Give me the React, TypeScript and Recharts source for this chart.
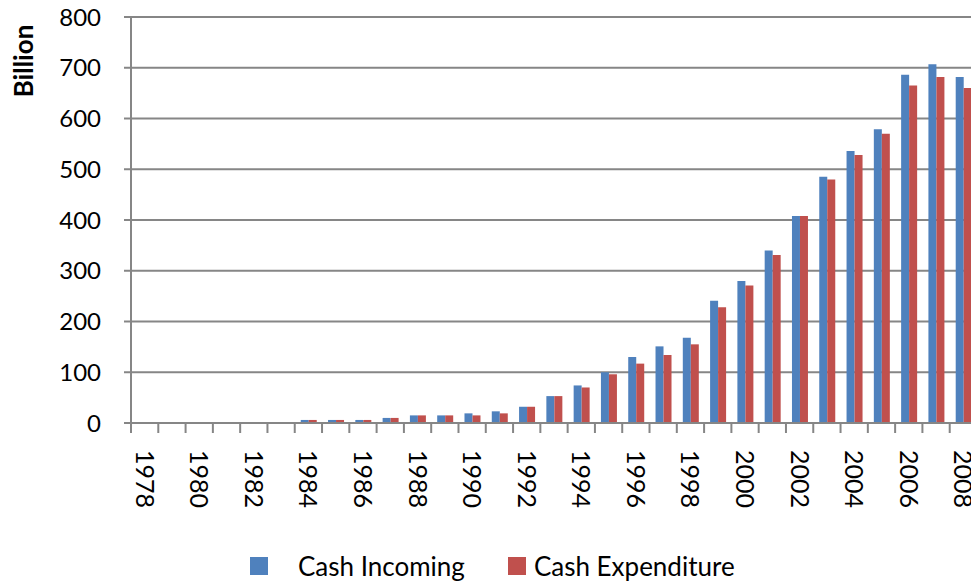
import React from 'react';
import { BarChart, Bar, XAxis, YAxis, CartesianGrid, Legend, Label } from 'recharts';

const years = [
  '1978', '1979', '1980', '1981', '1982', '1983', '1984', '1985', '1986', '1987',
  '1988', '1989', '1990', '1991', '1992', '1993', '1994', '1995', '1996', '1997',
  '1998', '1999', '2000', '2001', '2002', '2003', '2004', '2005', '2006', '2007', '2008',
];
const cashIncoming = [
  1, 1, 1, 1, 1, 1, 6, 6, 6, 10,
  15, 15, 19, 23, 32, 53, 74, 100, 130, 151,
  168, 241, 280, 340, 408, 485, 536, 579, 686, 707, 682,
];
const cashExpenditure = [
  1, 1, 1, 1, 1, 1, 6, 6, 6, 10,
  15, 15, 15, 19, 32, 53, 70, 96, 117, 134,
  155, 228, 271, 331, 408, 480, 528, 570, 665, 682, 660,
];
const yTicks = [0, 100, 200, 300, 400, 500, 600, 700, 800];
const seriesOrder = ['incoming', 'expenditure'];

const data = years.map((year, i) => ({
  year,
  incoming: cashIncoming[i],
  expenditure: cashExpenditure[i],
}));

const CHART_W = 985;
const CHART_H = 583;
const Y_AXIS_W = 131;
const X_AXIS_H = 160;
const MARGIN = { top: 17, right: 8, bottom: 0, left: 0 };
const BAND = (CHART_W - Y_AXIS_W - MARGIN.left - MARGIN.right) / years.length;
const GRAY = '#868686';
const FONT = 'Lato, "Open Sans", sans-serif';
const BLUE = '#4F81BD';
const RED = '#C0504D';

const XTick = (props: any) => {
  const { x, y, index, payload } = props;
  const bx = x - BAND / 2;
  const ty = y + 27;
  return (
    <g>
      <line x1={bx} y1={y} x2={bx} y2={y + 10} stroke={GRAY} strokeWidth={2} />
      {index % 2 === 0 && (
        <text
          x={x}
          y={ty}
          dy="0.36em"
          transform={`rotate(90, ${x}, ${ty})`}
          fontFamily={FONT}
          fontSize={25}
          fill="#000"
          textAnchor="start"
        >
          {payload.value}
        </text>
      )}
    </g>
  );
};

const BillionLabel = () => (
  <text
    x={24}
    y={61}
    dy="0.36em"
    transform="rotate(-90, 24, 61)"
    textAnchor="middle"
    fontFamily={FONT}
    fontWeight="bold"
    fontSize={26}
    fill="#000"
  >
    Billion
  </text>
);

const LegendContent = (props: any) => {
  const payload = [...(props.payload || [])].sort(
    (a: any, b: any) => seriesOrder.indexOf(a.dataKey) - seriesOrder.indexOf(b.dataKey)
  );
  return (
    <div style={{ display: 'flex', alignItems: 'center', height: 30, fontFamily: FONT, fontSize: 26, lineHeight: '30px', color: '#000' }}>
      {payload.map((entry: any, i: number) => (
        <div key={entry.value} style={{ display: 'flex', alignItems: 'center', marginLeft: i === 0 ? 0 : 43 }}>
          <div style={{ width: 18, height: 18, background: entry.color, marginRight: i === 0 ? 30 : 8 }} />
          <span>{entry.value}</span>
        </div>
      ))}
    </div>
  );
};

export default function App() {
  return (
    <div style={{ position: 'absolute', left: 0, top: 0, width: 971, height: 583, overflow: 'hidden', background: '#fff' }}>
      <BarChart width={CHART_W} height={CHART_H} data={data} margin={MARGIN} barGap={0}>
        <CartesianGrid vertical={false} stroke={GRAY} strokeWidth={2} />
        <XAxis
          dataKey="year"
          height={X_AXIS_H}
          interval={0}
          tickLine={false}
          tickSize={0}
          tickMargin={0}
          axisLine={{ stroke: GRAY, strokeWidth: 2 }}
          tick={<XTick />}
        />
        <YAxis
          width={Y_AXIS_W}
          domain={[0, 800]}
          ticks={yTicks}
          interval={0}
          tickSize={7}
          tickMargin={23}
          axisLine={{ stroke: GRAY, strokeWidth: 2 }}
          tickLine={{ stroke: GRAY, strokeWidth: 2 }}
          tick={{ fill: '#000', fontSize: 24, fontFamily: FONT }}
        >
          <Label content={<BillionLabel />} />
        </YAxis>
        <Legend
          layout="horizontal"
          verticalAlign="middle"
          align="center"
          itemSorter={null as any}
          wrapperStyle={{ position: 'absolute', left: 250, top: 551, width: 700 }}
          content={<LegendContent />}
        />
        <Bar dataKey="incoming" name="Cash Incoming" fill={BLUE} barSize={8} isAnimationActive={false} />
        <Bar dataKey="expenditure" name="Cash Expenditure" fill={RED} barSize={8} isAnimationActive={false} />
      </BarChart>
    </div>
  );
}
